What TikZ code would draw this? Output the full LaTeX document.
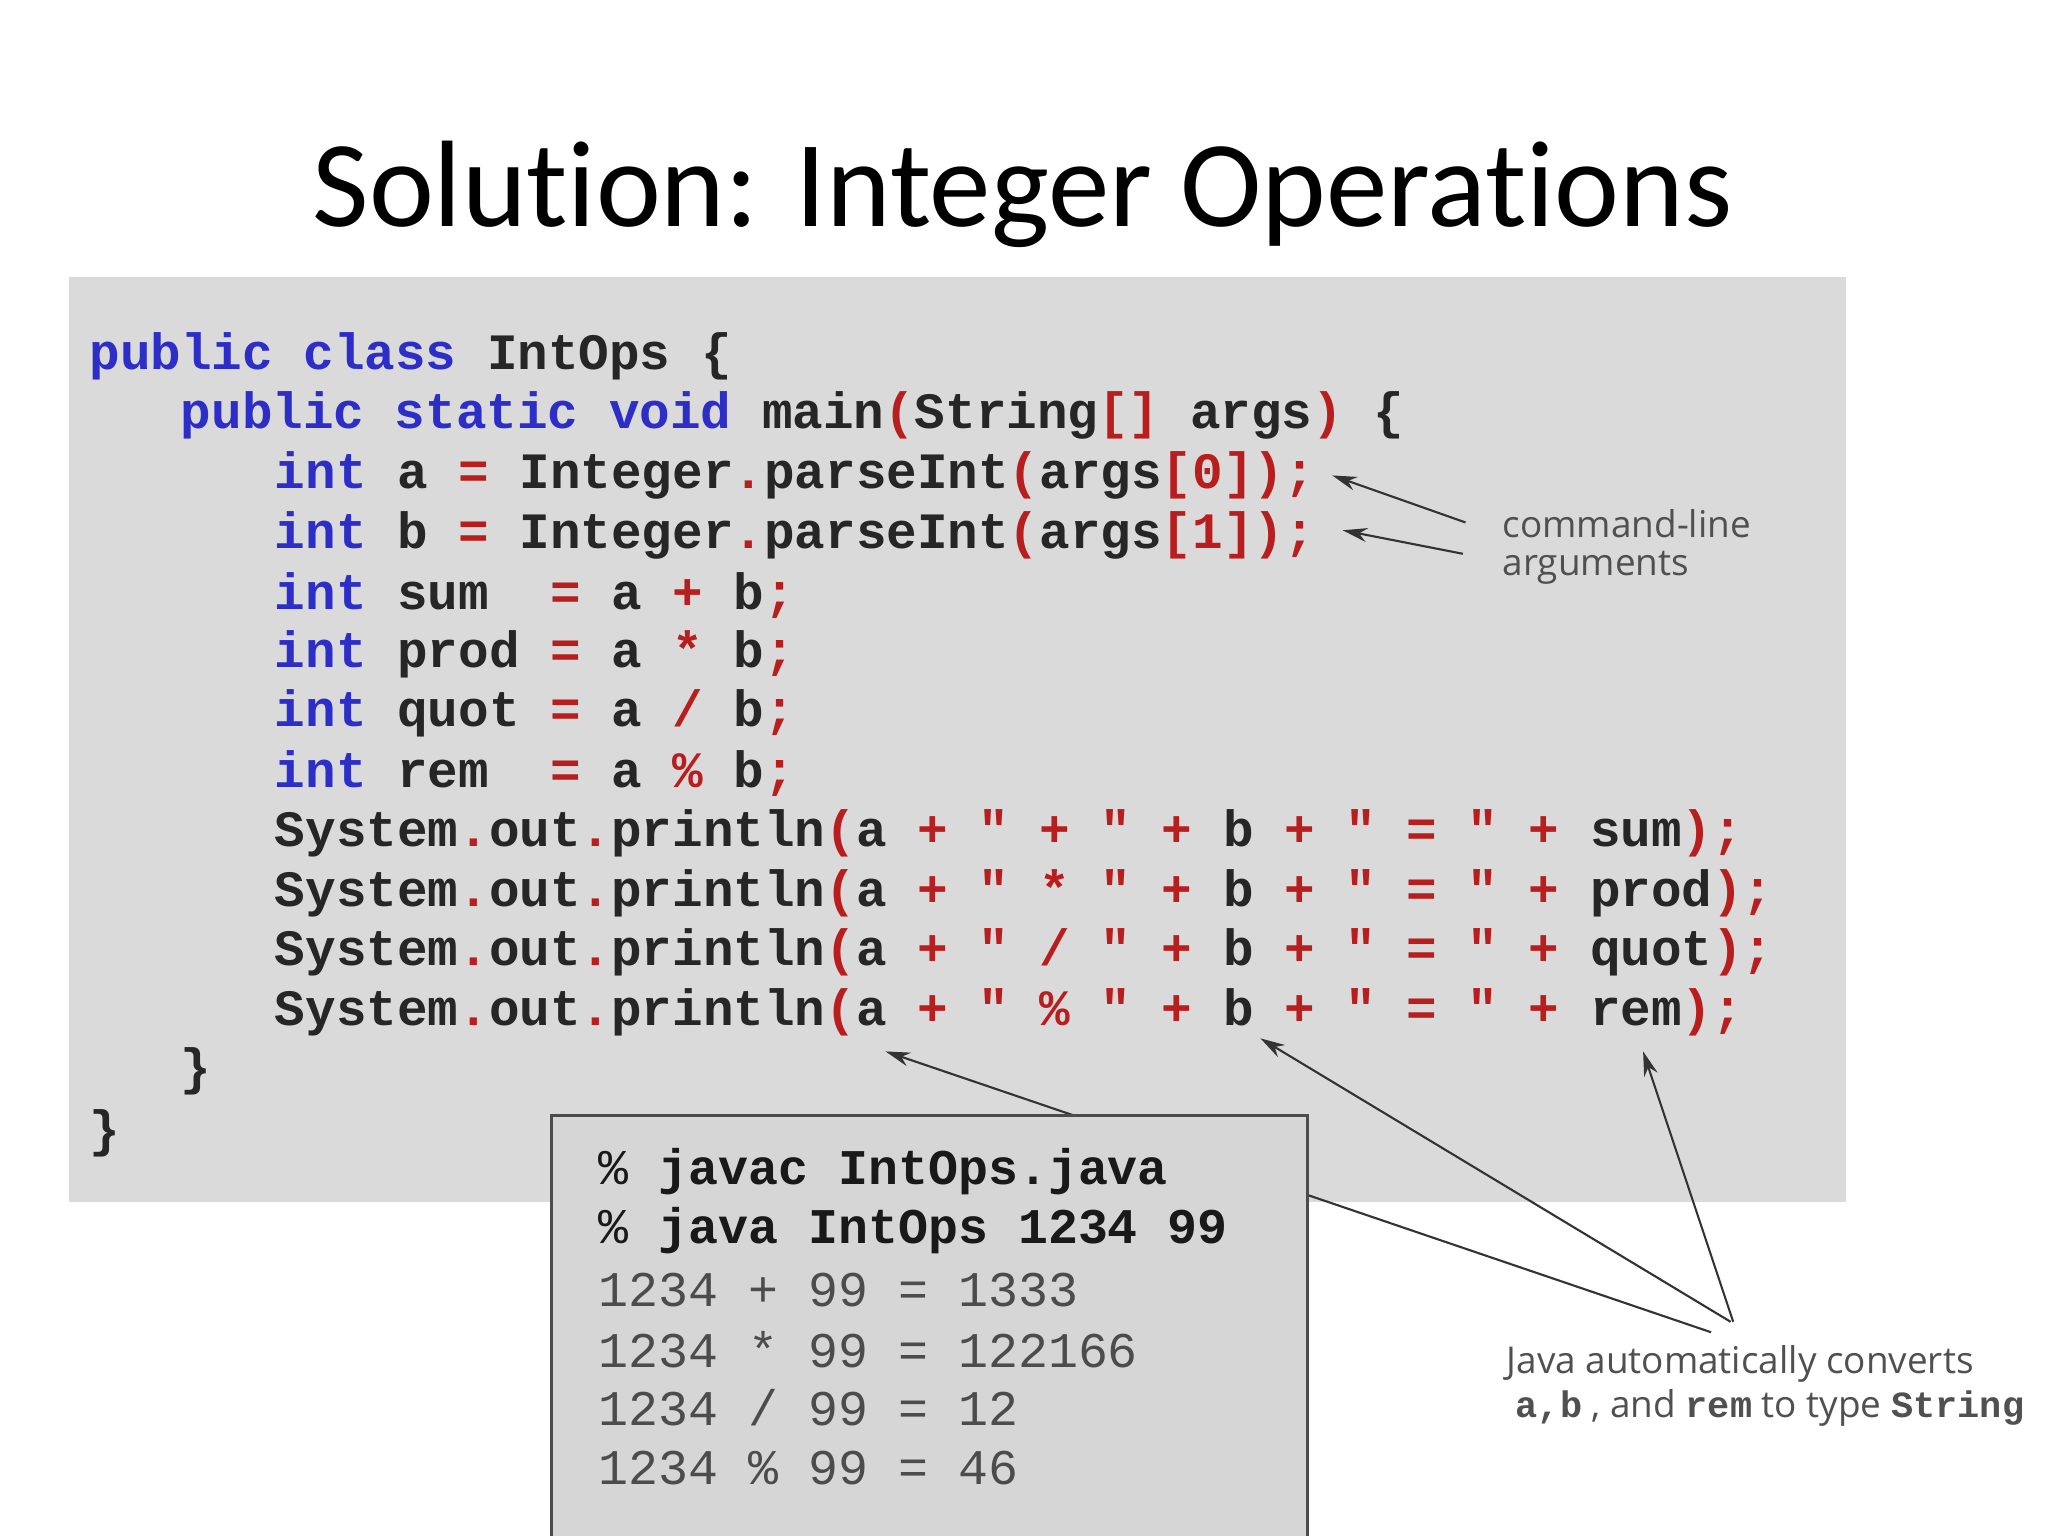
\documentclass[tikz,border=0pt]{standalone}
\usepackage{fontspec}
\setmainfont{Carlito}[Ligatures={NoCommon}]
\newfontfamily\cf{Liberation Mono}[BoldFont={Liberation Mono Bold}]
\newfontfamily\af{Open Sans}
\definecolor{kw}{RGB}{45,45,200}
\definecolor{op}{RGB}{185,30,30}
\definecolor{bg}{RGB}{218,218,218}
\definecolor{outbg}{RGB}{214,214,214}
\definecolor{ann}{RGB}{80,80,80}
\newcommand{\K}[1]{\textcolor{kw}{#1}}
\newcommand{\R}[1]{\textcolor{op}{#1}}
\usetikzlibrary{arrows.meta}
\tikzset{code/.style={anchor=west,inner sep=0pt,font=\cf\bfseries\fontsize{14.5}{14.5}\selectfont,text=black!85},
 outtxt/.style={anchor=west,inner sep=0pt,font=\cf\fontsize{14.2}{14.2}\selectfont,text=black!70},
 outbold/.style={anchor=west,inner sep=0pt,font=\cf\bfseries\fontsize{14.2}{14.2}\selectfont,text=black!90},
 ann/.style={anchor=west,inner sep=0pt,font=\af\fontsize{10.5}{12}\selectfont,text=ann},
 arr/.style={-{Stealth[length=7pt,width=4pt]},black!80,line width=0.6pt}}
\begin{document}
\begin{tikzpicture}[x=0.013061cm,y=-0.013061cm]
\useasboundingbox (0,0) rectangle (1568,1176);
\fill[white] (0,0) rectangle (1568,1176);
\node[font=\fontsize{35}{35}\selectfont] (title) at (783,149) {Solution: Integer Operations};
\fill[bg] (53,212) rectangle (1413,920);
\node[code] (l1) at (68,273) {\K{public~class}~IntOps~\{};
\node[code] (l2) at (138,318) {\K{public~static~void}~main\R{(}String\R{[]}~args\R{)}~\{};
\node[code] (l3) at (210,364) {\K{int}~a~\R{=}~Integer\R{.}parseInt\R{(}args\R{[0]);}};
\node[code] (l4) at (210,410) {\K{int}~b~\R{=}~Integer\R{.}parseInt\R{(}args\R{[1]);}};
\node[code] (l5) at (210,456) {\K{int}~sum~~\R{=}~a~\R{+}~b\R{;}};
\node[code] (l6) at (210,501) {\K{int}~prod~\R{=}~a~\R{*}~b\R{;}};
\node[code] (l7) at (210,546) {\K{int}~quot~\R{=}~a~\R{/}~b\R{;}};
\node[code] (l8) at (210,592) {\K{int}~rem~~\R{=}~a~\R{\%}~b\R{;}};
\node[code] (l9) at (210,638) {System\R{.}out\R{.}println\R{(}a~\R{+~"~+~"~+}~b~\R{+~"~=~"~+}~sum\R{);}};
\node[code] (l10) at (210,684) {System\R{.}out\R{.}println\R{(}a~\R{+~"~*~"~+}~b~\R{+~"~=~"~+}~prod\R{);}};
\node[code] (l11) at (210,729) {System\R{.}out\R{.}println\R{(}a~\R{+~"~/~"~+}~b~\R{+~"~=~"~+}~quot\R{);}};
\node[code] (l12) at (210,775) {System\R{.}out\R{.}println\R{(}a~\R{+~"~\%~"~+}~b~\R{+~"~=~"~+}~rem\R{);}};
\node[code] (l13) at (138,820) {\}};
\node[code] (l14) at (68,868) {\}};
\node[ann] (cl1) at (1150,401) {command-line};
\node[ann] (cl2) at (1150,435) {arguments};
\coordinate (c1) at (1122,400);
\coordinate (c2) at (1120,424);
\coordinate (t1) at (1020,364);
\coordinate (t2) at (1028,406);
\draw[arr] (c1) -- (t1);
\draw[arr] (c2) -- (t2);
\coordinate (sa) at (1310,1020);
\coordinate (sb) at (1325,1012);
\coordinate (sr) at (1327,1012);
\coordinate (ta) at (678,805);
\coordinate (tb) at (965,795);
\coordinate (tr) at (1258,805);
\draw[arr] (sa) -- (ta);
\draw[arr] (sb) -- (tb);
\draw[arr] (sr) -- (tr);
\filldraw[fill=outbg,draw=black!70,line width=0.8pt] (422,854) rectangle (1001,1180);
\node[outbold] (o1) at (458,897) {\textmd{\%}~javac~IntOps.java};
\node[outbold] (o2) at (458,942) {\textmd{\%}~java~IntOps~1234~99};
\node[outtxt] (o3) at (458,988) {1234~+~99~=~1333};
\node[outtxt] (o4) at (458,1033) {1234~*~99~=~122166};
\node[outtxt] (o5) at (458,1078) {1234~/~99~=~12};
\node[outtxt] (o6) at (458,1124) {1234~\%~99~=~46};
\node[ann] (j1) at (1153,1044) {Java automatically converts};
\node[ann] (j2) at (1160,1078) {{\cf\bfseries a,b}~, and {\cf\bfseries rem} to type {\cf\bfseries String}};
\end{tikzpicture}
\end{document}
